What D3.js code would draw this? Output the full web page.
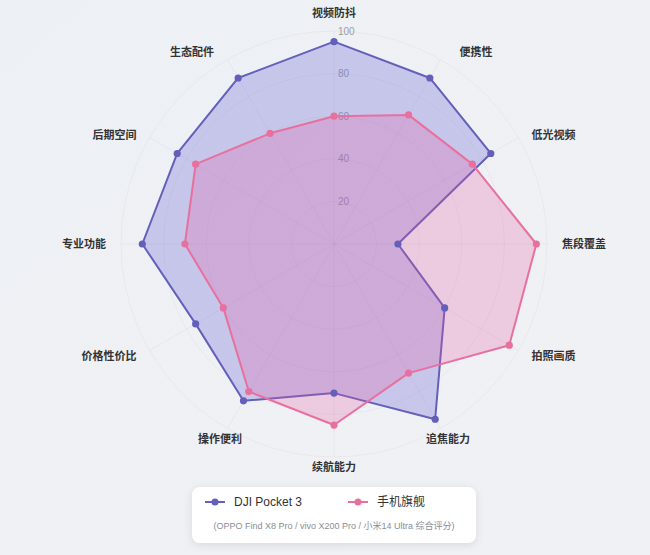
<!DOCTYPE html>
<html>
<head>
<meta charset="utf-8">
<script src="https://cdn.jsdelivr.net/npm/d3@7"></script>
<style>
  html, body { margin: 0; padding: 0; background: #eef1f5; }
  svg { display: block; }
  text { font-family: "Liberation Sans", Arial, "Noto Sans CJK SC", sans-serif; }
</style>
</head>
<body>
<svg id="chart" width="650" height="555"></svg>
<script>
// ---- data ----
const categories = ["视频防抖", "便携性", "低光视频", "焦段覆盖", "拍照画质", "追焦能力",
                    "续航能力", "操作便利", "价格性价比", "专业功能", "后期空间", "生态配件"];
const djiValues   = [95, 90, 85, 30, 60, 95, 70, 85, 75, 90, 85, 90];
const phoneValues = [60, 70, 75, 95, 95, 70, 85, 80, 60, 70, 75, 60];
const tickValues  = [20, 40, 60, 80, 100];
const seriesNames = ["DJI Pocket 3", "手机旗舰"];
const subtitle = "(OPPO Find X8 Pro / vivo X200 Pro / 小米14 Ultra 综合评分)";

// ---- layout ----
const W = 650, H = 555;
const cx = 334, cy = 244, R = 213;
const colors = { dji: "#635fba", phone: "#e8709f" };
const fills = { dji: "#6968d4", phone: "#e458a0" };

const svg = d3.select("#chart");
const defs = svg.append("defs");
const bg = defs.append("linearGradient").attr("id", "bg").attr("x1", 0).attr("y1", 0).attr("x2", 1).attr("y2", 1);
bg.append("stop").attr("offset", "0%").attr("stop-color", "#edf0f4");
bg.append("stop").attr("offset", "100%").attr("stop-color", "#f0f1f5");
const sh = defs.append("filter").attr("id", "shadow").attr("x", "-20%").attr("y", "-40%").attr("width", "140%").attr("height", "180%");
sh.append("feDropShadow").attr("dx", 0).attr("dy", 2).attr("stdDeviation", 4)
  .attr("flood-color", "#000").attr("flood-opacity", 0.10);

svg.append("rect").attr("width", W).attr("height", H).attr("fill", "url(#bg)");

const rScale = d3.scaleLinear().domain([0, 100]).range([0, R]);
const angle = d3.scalePoint().domain(categories).range([0, 2 * Math.PI * (categories.length - 1) / categories.length]);

const g = svg.append("g");

// grid circles
g.selectAll("circle.grid").data(tickValues).enter().append("circle")
  .attr("cx", cx).attr("cy", cy).attr("r", d => rScale(d))
  .attr("fill", "none").attr("stroke", "#000").attr("stroke-opacity", 0.035).attr("stroke-width", 1);

// spokes
g.selectAll("line.spoke").data(categories).enter().append("line")
  .attr("x1", cx).attr("y1", cy)
  .attr("x2", d => cx + rScale(100) * Math.sin(angle(d)))
  .attr("y2", d => cy - rScale(100) * Math.cos(angle(d)))
  .attr("stroke", "#000").attr("stroke-opacity", 0.04).attr("stroke-width", 1);

// tick labels
g.selectAll("text.tick").data(tickValues).enter().append("text")
  .attr("x", cx + 4).attr("y", d => cy - rScale(d))
  .attr("dominant-baseline", "central")
  .attr("font-size", 10).attr("fill", "#9a9ca8")
  .text(d => d);

// series
const radial = d3.lineRadial().angle((d, i) => angle(categories[i])).radius(d => rScale(d)).curve(d3.curveLinearClosed);
const series = [
  { key: "dji", values: djiValues, fillOpacity: 0.30 },
  { key: "phone", values: phoneValues, fillOpacity: 0.25 }
];
series.forEach(s => {
  const sg = g.append("g").attr("transform", `translate(${cx},${cy})`);
  sg.append("path").attr("d", radial(s.values))
    .attr("fill", fills[s.key]).attr("fill-opacity", s.fillOpacity)
    .attr("stroke", colors[s.key]).attr("stroke-width", 2).attr("stroke-linejoin", "round");
});
series.forEach(s => {
  const sg = g.append("g").attr("transform", `translate(${cx},${cy})`);
  sg.selectAll("circle").data(s.values).enter().append("circle")
    .attr("cx", (d, i) => rScale(d) * Math.sin(angle(categories[i])))
    .attr("cy", (d, i) => -rScale(d) * Math.cos(angle(categories[i])))
    .attr("r", 3.6).attr("fill", colors[s.key]);
});

// axis labels
const LR = 228;
g.selectAll("text.cat").data(categories).enter().append("text")
  .each(function (d) {
    const a = angle(d), s = Math.sin(a), c = Math.cos(a);
    let x = cx + LR * s, y = cy - LR * c, anchor;
    if (Math.abs(s) < 0.01) anchor = "middle";
    else if (Math.abs(s) < 0.6) { anchor = "middle"; if (c > 0) x += Math.sign(s) * 28; }
    else anchor = s > 0 ? "start" : "end";
    let yoff = c > 0.95 ? -3 : c < -0.95 ? -5 : c > 0.01 ? 5 : c < -0.01 ? -2.5 : 0;
    d3.select(this).attr("x", x).attr("y", y + yoff).attr("text-anchor", anchor);
  })
  .attr("dominant-baseline", "central")
  .attr("font-size", 11).attr("font-weight", "bold").attr("fill", "#333")
  .text(d => d);

// legend
const lg = svg.append("g");
lg.append("rect").attr("x", 192).attr("y", 487).attr("width", 284).attr("height", 56).attr("rx", 8)
  .attr("fill", "#fff").attr("filter", "url(#shadow)");
const legendItems = [
  { name: seriesNames[0], key: "dji", x: 205 },
  { name: seriesNames[1], key: "phone", x: 348 }
];
legendItems.forEach(it => {
  lg.append("line").attr("x1", it.x).attr("x2", it.x + 20).attr("y1", 502).attr("y2", 502)
    .attr("stroke", colors[it.key]).attr("stroke-width", 2);
  lg.append("circle").attr("cx", it.x + 10).attr("cy", 502).attr("r", 3.5).attr("fill", colors[it.key]);
  lg.append("text").attr("x", it.x + 29).attr("y", 502).attr("dominant-baseline", "central")
    .attr("font-size", 12).attr("fill", "#333").text(it.name);
});
lg.append("text").attr("x", 334).attr("y", 526).attr("text-anchor", "middle").attr("dominant-baseline", "central")
  .attr("font-size", 9).attr("fill", "#8a8d96").text(subtitle);
</script>
</body>
</html>
